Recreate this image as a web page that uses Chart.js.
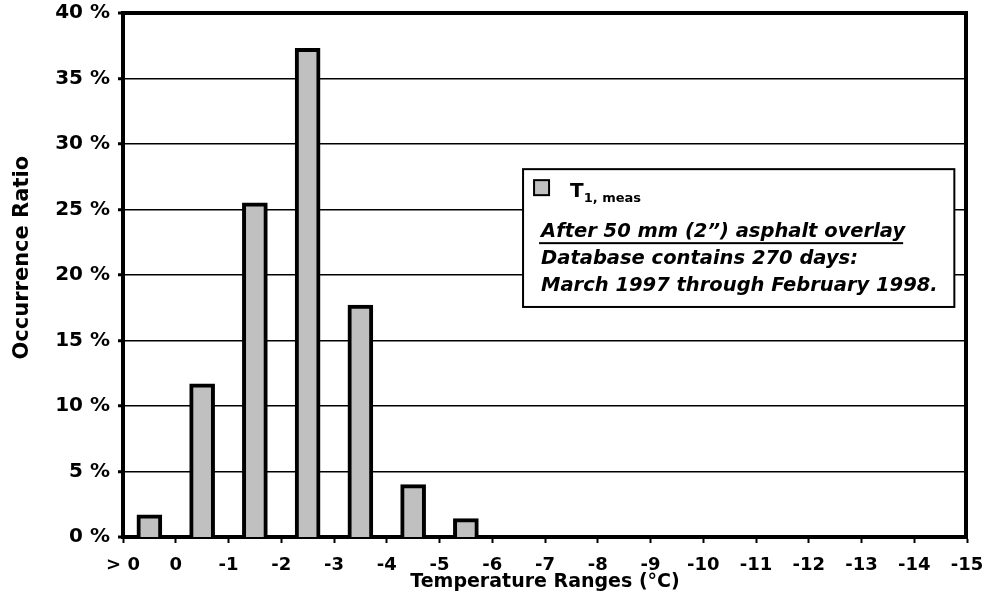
<!DOCTYPE html>
<html>
<head>
<meta charset="utf-8">
<script src="https://cdn.jsdelivr.net/npm/chart.js@4"></script>
<style>
  html, body { margin: 0; padding: 0; background: #fff; }
  #wrap { width: 984px; height: 608px; }
</style>
</head>
<body>
<div id="wrap"><canvas id="chart" width="984" height="608"></canvas></div>
<script>
// temperature range boundaries (tick labels sit on the boundaries, bars between them)
const tempLabels = ["> 0", "0", "-1", "-2", "-3", "-4", "-5", "-6", "-7", "-8", "-9", "-10", "-11", "-12", "-13", "-14", "-15"];
// occurrence ratio (%) for each range
const occurrence = [1.7, 11.7, 25.5, 37.3, 17.7, 4.0, 1.4, 0, 0, 0, 0, 0, 0, 0, 0, 0];
const yTicks = [0, 5, 10, 15, 20, 25, 30, 35, 40];
const seriesName = "T";
const seriesSub = "1, meas";
const noteLines = [
  "After 50 mm (2\u201d) asphalt overlay",
  "Database contains 270 days:",
  "March 1997 through February 1998."
];

const FONT = "'DejaVu Sans', 'Liberation Sans', Arial, sans-serif";

// each bar sits in the middle of its range
const barData = occurrence.map((v, i) => ({ x: i + 0.5, y: v }));

// right frame line + y title + legend/note box
const extras = {
  id: "extras",
  afterDraw(chart) {
    const ctx = chart.ctx;
    const ca = chart.chartArea;
    ctx.save();
    // right edge of plot frame
    ctx.strokeStyle = "#000";
    ctx.lineWidth = 4;
    ctx.beginPath();
    ctx.moveTo(ca.right - 1, ca.top - 2);
    ctx.lineTo(ca.right - 1, ca.bottom + 2);
    ctx.stroke();

    // y axis title
    ctx.save();
    ctx.translate(23, ca.top + ca.height * 0.467);
    ctx.rotate(-Math.PI / 2);
    ctx.font = "bold 21px " + FONT;
    ctx.fillStyle = "#000";
    ctx.textAlign = "center";
    ctx.textBaseline = "middle";
    ctx.fillText("Occurrence Ratio", 0, 0);
    ctx.restore();

    // legend box
    const bx = ca.left + ca.width * 0.474;
    const by = ca.top + ca.height * 0.298;
    const bw = ca.width * 0.511;
    const bh = ca.height * 0.263;
    ctx.fillStyle = "#fff";
    ctx.fillRect(bx, by, bw, bh);
    ctx.lineWidth = 2;
    ctx.strokeStyle = "#000";
    ctx.strokeRect(bx, by, bw, bh);

    const ds = chart.data.datasets[0];
    ctx.fillStyle = ds.backgroundColor;
    ctx.fillRect(bx + 11, by + 11, 15, 15);
    ctx.strokeRect(bx + 11, by + 11, 15, 15);

    ctx.fillStyle = "#000";
    ctx.textAlign = "left";
    ctx.textBaseline = "alphabetic";
    ctx.font = "bold 20px " + FONT;
    ctx.fillText(seriesName, bx + 47, by + 28);
    const tw = ctx.measureText(seriesName).width;
    ctx.font = "bold 13px " + FONT;
    ctx.fillText(seriesSub, bx + 47 + tw, by + 33);

    ctx.font = "italic bold 19.5px " + FONT;
    noteLines.forEach((line, i) => {
      const ty = by + 68 + i * 27;
      ctx.fillText(line, bx + 18, ty);
      if (i === 0) {
        const w = ctx.measureText(line).width;
        ctx.fillRect(bx + 16, ty + 5, w, 2);
      }
    });
    ctx.restore();
  }
};

new Chart(document.getElementById("chart"), {
  type: "bar",
  data: {
    datasets: [{
      label: seriesName + " " + seriesSub,
      data: barData,
      backgroundColor: "#c0c0c0",
      borderColor: "#000",
      borderWidth: 4,
      barThickness: 25
    }]
  },
  options: {
    responsive: false,
    animation: false,
    layout: { padding: { top: 13, right: 17, left: 0, bottom: 0 } },
    plugins: {
      legend: { display: false },
      tooltip: { enabled: false }
    },
    scales: {
      x: {
        type: "linear",
        min: 0,
        max: tempLabels.length - 1,
        offset: false,
        // fixed axis height, and no extra room asked for the edge labels
        afterFit: (s) => { s.height = 71; s.paddingLeft = 0; s.paddingRight = 0; },
        border: { color: "#000", width: 4 },
        grid: {
          offset: false,
          drawOnChartArea: false,
          drawTicks: true,
          tickLength: 6,
          tickWidth: 2,
          tickColor: "#000"
        },
        ticks: {
          stepSize: 1,
          autoSkip: false,
          maxRotation: 0,
          padding: 12,
          color: "#000",
          font: { family: FONT, size: 18, weight: "bold" },
          callback: (v) => tempLabels[v]
        },
        title: {
          display: true,
          text: "Temperature Ranges (\u00b0C)",
          color: "#000",
          font: { family: FONT, size: 19, weight: "bold" },
          padding: { top: 0, bottom: 15 }
        }
      },
      y: {
        min: yTicks[0],
        max: yTicks[yTicks.length - 1],
        afterFit: (s) => { s.width = 123; s.paddingTop = 0; s.paddingBottom = 0; },
        afterBuildTicks: (s) => { s.ticks = yTicks.map((v) => ({ value: v })); },
        border: { color: "#000", width: 4 },
        grid: {
          color: "#000",
          lineWidth: (c) => (c.tick && c.tick.value === 40 ? 4 : c.tick && c.tick.value === 0 ? 0 : 1.5),
          tickLength: 5,
          tickWidth: 3,
          tickColor: "#000"
        },
        ticks: {
          padding: 8,
          color: "#000",
          font: { family: FONT, size: 20, weight: "bold" },
          callback: (v) => v + " %"
        }
      }
    }
  },
  plugins: [extras]
});
</script>
</body>
</html>
